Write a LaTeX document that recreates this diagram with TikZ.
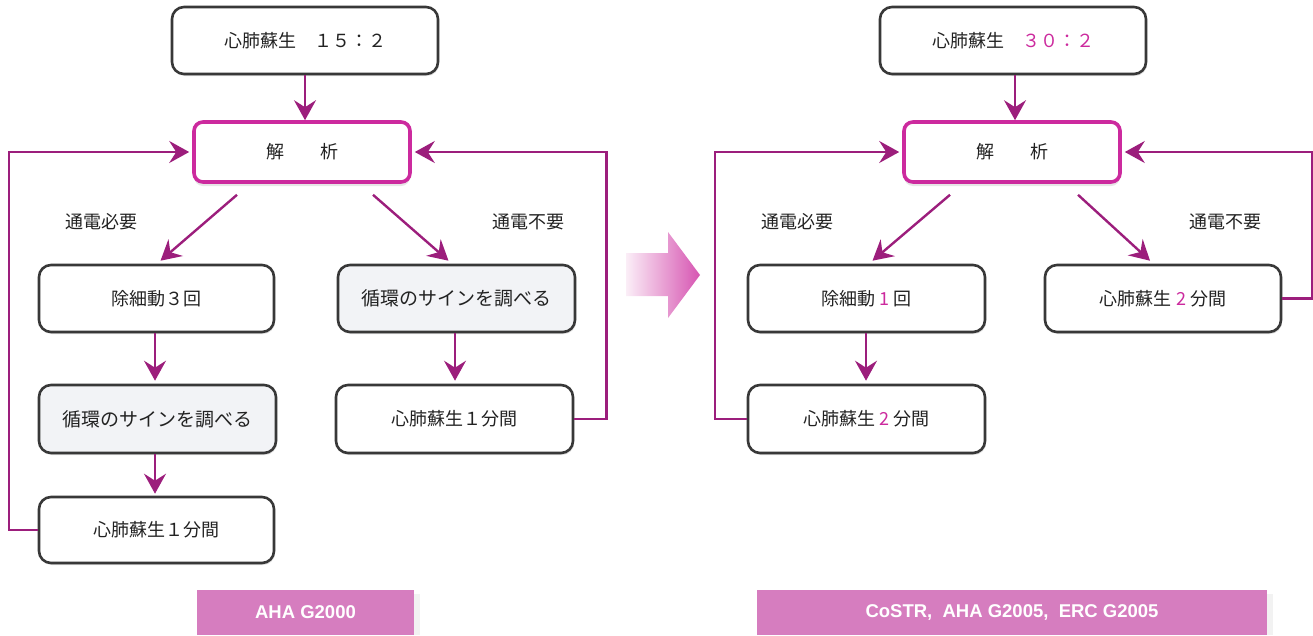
\documentclass[tikz,border=0pt]{standalone}
\usepackage{fontspec}
\setmainfont{Noto Sans CJK JP}
\newfontfamily\barfont{Liberation Sans}
\usetikzlibrary{arrows.meta,calc,shadows}
\definecolor{arrc}{HTML}{9C1E7C}
\definecolor{mag}{HTML}{CC2A9E}
\definecolor{barc}{HTML}{D67DBF}
\definecolor{boxgray}{HTML}{F2F3F6}
\definecolor{txt}{HTML}{222222}
\tikzset{
  box/.style={draw=black!78, line width=2.6pt, rounded corners=12pt, fill=white,
    text=txt, font=\fontsize{18}{20}\selectfont, inner sep=0pt,
    drop shadow={shadow xshift=1pt, shadow yshift=-2pt, opacity=0.25}},
  graybox/.style={box, fill=boxgray, font=\fontsize{19}{21}\selectfont},
  anabox/.style={draw=mag, line width=3.6pt, rounded corners=9pt, fill=white,
    text=txt, font=\fontsize{18}{20}\selectfont, minimum width=216pt, minimum height=60pt,
    drop shadow={shadow xshift=0pt, shadow yshift=-4pt, opacity=0.2}},
  arr/.style={draw=arrc, line width=2.4pt, -{Stealth[length=20pt,width=22pt,inset=7pt]}},
  lbl/.style={text=txt, font=\fontsize{18}{20}\selectfont, inner sep=0pt},
  bar/.style={fill=barc, text=white, font=\barfont\bfseries\fontsize{18.5}{20}\selectfont,
    minimum height=45pt, inner sep=0pt},
  barshadow/.style={fill=black!5, draw=none}
}
\begin{document}
\begin{tikzpicture}[x=1pt,y=-1pt]
\useasboundingbox (0,0) rectangle (1313,635);
% ---------- left diagram ----------
\node[box, minimum width=266pt, minimum height=67pt] (Ltop) at (305,40.5) {心肺蘇生　１５：２};
\node[anabox] (Lana) at (302,152) {解　　析};
\node[box, minimum width=235pt, minimum height=67pt] (Ldef) at (156.5,298.5) {除細動３回};
\node[graybox, minimum width=237pt, minimum height=68pt] (Lsig) at (157.5,419) {循環のサインを調べる};
\node[box, minimum width=235pt, minimum height=66pt] (Lcpr) at (156.5,530) {心肺蘇生１分間};
\node[graybox, minimum width=237pt, minimum height=67pt] (Lsig2) at (456.5,298.5) {循環のサインを調べる};
\node[box, minimum width=237pt, minimum height=68pt] (Lcpr2) at (454.5,419) {心肺蘇生１分間};
\node[lbl] (Lyes) at (101,222) {通電必要};
\node[lbl] (Lno) at (528,222) {通電不要};

\draw[arr] (Ltop.south -| 305,0) -- (Lana.north -| 305,0);
\draw[arr] ($(Lana.south)+(-65,11)$) -- ($(Ldef.north)+(4,-3)$);
\draw[arr] ($(Lana.south)+(71,11)$) -- ($(Lsig2.north)+(-8,-3)$);
\draw[arr] (Ldef.south -| 155,0) -- ($(Lsig.north -| 155,0)+(0,-3)$);
\draw[arr] (Lsig.south -| 155,0) -- ($(Lcpr.north -| 155,0)+(0,-2)$);
\draw[arr] (Lsig2.south -| 455,0) -- ($(Lcpr2.north -| 455,0)+(0,-3)$);
\draw[arr, shorten >=3pt] (Lcpr.west) -- ++(-29,0) |- (Lana.west);
\draw[arr, shorten >=3pt] (Lcpr2.east) -- ++(32,0) |- (Lana.east);

% ---------- middle arrow ----------
\shade[left color=mag!8, right color=mag!80] (626,253) -- (668,253) -- (668,232) -- (700,275)
  -- (668,318) -- (668,296) -- (626,296) -- cycle;

% ---------- right diagram ----------
\node[box, minimum width=266pt, minimum height=67pt] (Rtop) at (1013,40.5) {心肺蘇生　{\color{mag}３０：２}};
\node[anabox] (Rana) at (1012,152) {解　　析};
\node[box, minimum width=237pt, minimum height=67pt] (Rdef) at (866.5,298.5) {除細動 {\color{mag}1} 回};
\node[box, minimum width=237pt, minimum height=68pt] (Rcpr) at (866.5,419) {心肺蘇生 {\color{mag}2} 分間};
\node[box, minimum width=236pt, minimum height=67pt] (Rcpr2) at (1163,298.5) {心肺蘇生 {\color{mag}2} 分間};
\node[lbl] (Ryes) at (797,222) {通電必要};
\node[lbl] (Rno) at (1225,222) {通電不要};

\draw[arr] (Rtop.south -| 1015,0) -- (Rana.north -| 1015,0);
\draw[arr] ($(Rana.south)+(-62,11)$) -- ($(Rdef.north)+(6,-3)$);
\draw[arr] ($(Rana.south)+(66,11)$) -- ($(Rcpr2.north)+(-13,-3)$);
\draw[arr] (Rdef.south -| 866,0) -- ($(Rcpr.north -| 866,0)+(0,-3)$);
\draw[arr, shorten >=3pt] (Rcpr.west) -- ++(-32,0) |- (Rana.west);
\draw[arr, shorten >=3pt] (Rcpr2.east) -- ++(30,0) |- (Rana.east);

% ---------- bars ----------
\fill[barshadow] (414,594) rectangle (420,635);
\node[bar, minimum width=217pt] (Lbar) at (305.5,612.5) {AHA G2000};
\fill[barshadow] (1267,594) rectangle (1273,635);
\node[bar, minimum width=510pt] (Rbar) at (1012,612.5) {CoSTR,\ \ AHA G2005,\ \ ERC G2005};
\end{tikzpicture}
\end{document}
